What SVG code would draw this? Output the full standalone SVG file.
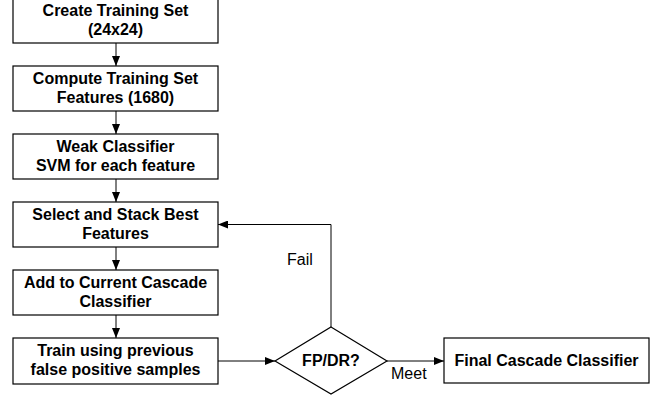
<svg xmlns="http://www.w3.org/2000/svg" width="666" height="396" viewBox="0 0 666 396">
<style>
.box{fill:#fff;stroke:#000;stroke-width:1.2}
.t{font-family:"Liberation Sans",Arial,sans-serif;font-size:16px;font-weight:bold;text-anchor:middle;fill:#000}
.l{font-family:"Liberation Sans",Arial,sans-serif;font-size:16px;fill:#000}
.c{fill:none;stroke:#000;stroke-width:1}
</style>
<defs>
<marker id="ah" markerWidth="10" markerHeight="8" refX="10" refY="4" orient="auto" markerUnits="userSpaceOnUse">
<path d="M0,0 L10,4 L0,8 Z" fill="#000"/>
</marker>
</defs>
<rect width="666" height="396" fill="#fff"/>
<g id="connectors">
<line class="c" x1="116" y1="43" x2="116" y2="66" marker-end="url(#ah)"/>
<line class="c" x1="116" y1="111" x2="116" y2="134" marker-end="url(#ah)"/>
<line class="c" x1="116" y1="179" x2="116" y2="202" marker-end="url(#ah)"/>
<line class="c" x1="116" y1="247" x2="116" y2="270" marker-end="url(#ah)"/>
<line class="c" x1="116" y1="315" x2="116" y2="338" marker-end="url(#ah)"/>
<line class="c" x1="218" y1="361" x2="275" y2="361" marker-end="url(#ah)"/>
<line class="c" x1="387" y1="361" x2="444" y2="361" marker-end="url(#ah)"/>
<polyline class="c" points="331,327 331,224.5 218,224.5" marker-end="url(#ah)"/>
<text class="l" x="287" y="265">Fail</text>
<text class="l" x="391" y="379">Meet</text>
</g>
<g id="n1">
<rect class="box" x="13" y="-2" width="205" height="45"/>
<text class="t" x="115.5" y="16">Create Training Set</text>
<text class="t" x="115.5" y="35">(24x24)</text>
</g>
<g id="n2">
<rect class="box" x="13" y="66" width="205" height="45"/>
<text class="t" x="115.5" y="84">Compute Training Set</text>
<text class="t" x="115.5" y="103">Features (1680)</text>
</g>
<g id="n3">
<rect class="box" x="13" y="134" width="205" height="45"/>
<text class="t" x="115.5" y="152">Weak Classifier</text>
<text class="t" x="115.5" y="171">SVM for each feature</text>
</g>
<g id="n4">
<rect class="box" x="13" y="202" width="205" height="45"/>
<text class="t" x="115.5" y="220">Select and Stack Best</text>
<text class="t" x="115.5" y="239">Features</text>
</g>
<g id="n5">
<rect class="box" x="13" y="270" width="205" height="45"/>
<text class="t" x="115.5" y="288">Add to Current Cascade</text>
<text class="t" x="115.5" y="307">Classifier</text>
</g>
<g id="n6">
<rect class="box" x="13" y="338" width="205" height="46"/>
<text class="t" x="115.5" y="356">Train using previous</text>
<text class="t" x="115.5" y="375">false positive samples</text>
</g>
<g id="d1">
<polygon class="box" points="331,327 387,361 331,394 275,361"/>
<text class="t" x="331" y="366">FP/DR?</text>
</g>
<g id="n7">
<rect class="box" x="444" y="338" width="205" height="45"/>
<text class="t" x="546.5" y="366">Final Cascade Classifier</text>
</g>
</svg>
